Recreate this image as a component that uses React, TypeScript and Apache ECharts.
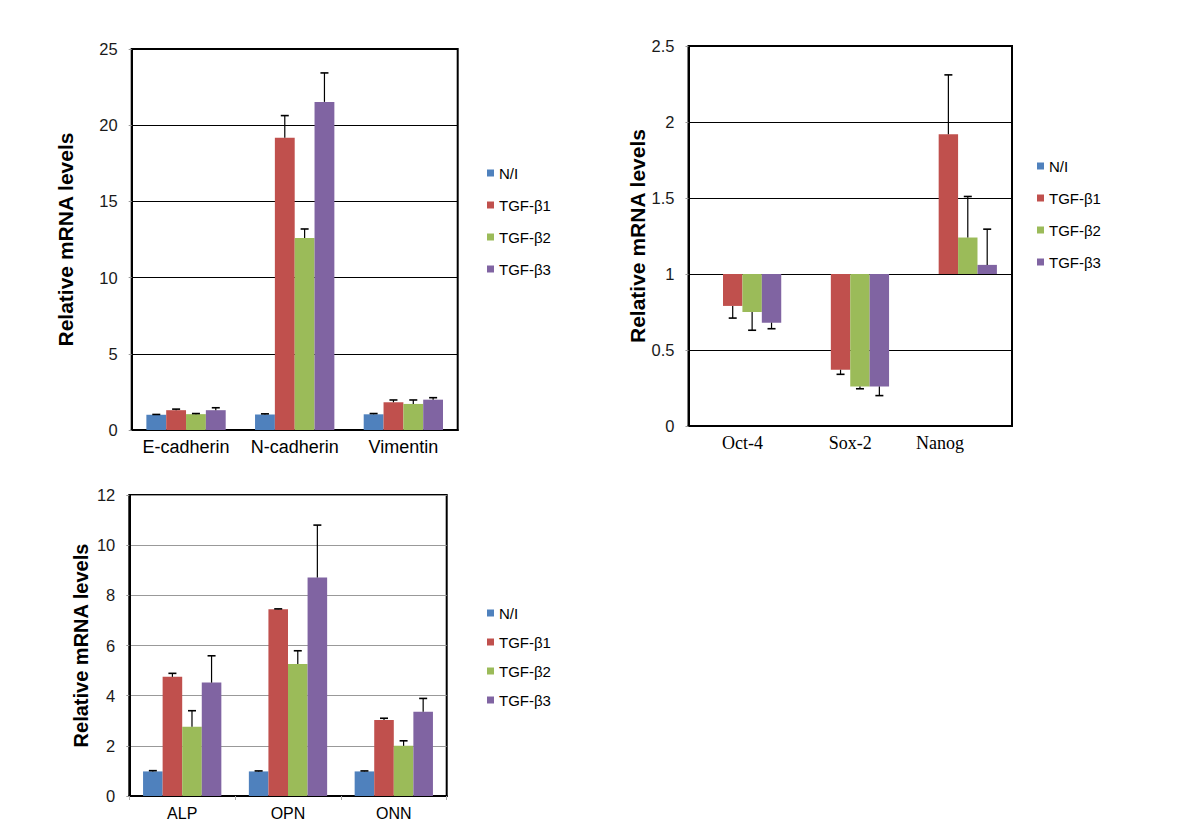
import React, { useEffect, useRef } from "react";
import * as echarts from "echarts";

// ---------- data ----------
const SERIES = ["N/I", "TGF-β1", "TGF-β2", "TGF-β3"];
const COLORS = ["#4F81BD", "#C0504D", "#9BBB59", "#8064A2"];

// Panel A: EMT markers
const EMT_GENES = ["E-cadherin", "N-cadherin", "Vimentin"];
const EMT_NI = [1.0, 1.02, 1.03];
const EMT_B1 = [1.3, 19.17, 1.82];
const EMT_B2 = [1.04, 12.6, 1.71];
const EMT_B3 = [1.3, 21.53, 1.99];
const EMT_NI_ERR = [0.02, 0.04, 0.05];
const EMT_B1_ERR = [0.07, 1.46, 0.15];
const EMT_B2_ERR = [0.04, 0.59, 0.26];
const EMT_B3_ERR = [0.16, 1.9, 0.13];
const EMT_AXIS = [0, 25, 5]; // min, max, interval

// Panel B: stemness markers (bars drawn from baseline 1)
const STEM_GENES = ["Oct-4", "Sox-2", "Nanog"];
const STEM_NI = [1, 1, 1];
const STEM_B1 = [0.79, 0.37, 1.92];
const STEM_B2 = [0.75, 0.26, 1.24];
const STEM_B3 = [0.68, 0.26, 1.06];
const STEM_NI_ERR = [0, 0, 0];
const STEM_B1_ERR = [0.08, 0.03, 0.39];
const STEM_B2_ERR = [0.12, 0.015, 0.27];
const STEM_B3_ERR = [0.04, 0.06, 0.235];
const STEM_BASELINE = 1;
const STEM_AXIS = [0, 2.5, 0.5];

// Panel C: osteogenic markers
const OST_GENES = ["ALP", "OPN", "ONN"];
const OST_NI = [0.98, 0.98, 0.98];
const OST_B1 = [4.75, 7.45, 3.03];
const OST_B2 = [2.76, 5.26, 2.0];
const OST_B3 = [4.52, 8.71, 3.36];
const OST_NI_ERR = [0.03, 0.02, 0.02];
const OST_B1_ERR = [0.14, 0.01, 0.07];
const OST_B2_ERR = [0.64, 0.53, 0.2];
const OST_B3_ERR = [1.07, 2.09, 0.53];
const OST_AXIS = [0, 12, 2];

const Y_TITLE = "Relative mRNA levels";

// ---------- helpers ----------
const SANS = "'Liberation Sans', Arial, Helvetica, sans-serif";
const SERIF = "'Liberation Serif', 'Times New Roman', serif";

function errSeries(
  grid: number,
  group: number,
  values: number[],
  errs: number[],
  gapPct: number,
  baseline: number
) {
  return {
    type: "custom",
    name: SERIES[group],
    xAxisIndex: grid,
    yAxisIndex: grid,
    z: 5,
    silent: true,
    encode: { x: 0, y: 1 },
    data: values.map((v, i) => [i, v, errs[i]]),
    renderItem: (_params: any, api: any) => {
      const i = api.value(0);
      const v = api.value(1);
      const e = api.value(2);
      if (!e) return null;
      const dir = v < baseline ? -1 : 1;
      const p0 = api.coord([i, v]);
      const p1 = api.coord([i, v + dir * e]);
      const band = api.size([1, 0])[0];
      const barW = (band * (1 - gapPct)) / 4;
      const x = p0[0] + (group - 1.5) * barW;
      return {
        type: "group",
        children: [
          {
            type: "line",
            shape: { x1: x, y1: p0[1], x2: x, y2: p1[1] },
            style: { stroke: "#000", lineWidth: 1.2 },
          },
          {
            type: "line",
            shape: { x1: x - 4, y1: p1[1], x2: x + 4, y2: p1[1] },
            style: { stroke: "#000", lineWidth: 1.6 },
          },
        ],
      };
    },
  };
}

function plainBars(grid: number, groups: number[][], gapPct: number) {
  return groups.map((vals, g) => ({
    type: "bar",
    name: SERIES[g],
    xAxisIndex: grid,
    yAxisIndex: grid,
    data: vals,
    barGap: "0%",
    barCategoryGap: `${gapPct * 100}%`,
    itemStyle: { color: COLORS[g] },
    silent: true,
  }));
}

function baselineBars(grid: number, groups: number[][], gapPct: number, base: number) {
  const out: any[] = [];
  groups.forEach((vals, g) => {
    out.push({
      type: "bar",
      name: "_base" + g,
      stack: "stem" + g,
      xAxisIndex: grid,
      yAxisIndex: grid,
      data: vals.map((v) => Math.min(v, base)),
      barGap: "0%",
      barCategoryGap: `${gapPct * 100}%`,
      itemStyle: { color: "rgba(0,0,0,0)" },
      silent: true,
    });
    out.push({
      type: "bar",
      name: SERIES[g],
      stack: "stem" + g,
      xAxisIndex: grid,
      yAxisIndex: grid,
      data: vals.map((v) => Math.abs(v - base)),
      barGap: "0%",
      barCategoryGap: `${gapPct * 100}%`,
      itemStyle: { color: COLORS[g] },
      silent: true,
    });
  });
  return out;
}

function yAxis(grid: number, ax: number[], split: string, nameGap: number, nameSize: number) {
  return {
    type: "value",
    gridIndex: grid,
    min: ax[0],
    max: ax[1],
    interval: ax[2],
    name: Y_TITLE,
    nameLocation: "middle",
    nameGap,
    nameTextStyle: { fontFamily: SANS, fontWeight: "bold", fontSize: nameSize, color: "#000" },
    axisLine: { show: true, lineStyle: { color: "#000", width: 2 } },
    axisTick: { show: true, length: 3, lineStyle: { color: "#999" } },
    axisLabel: { fontFamily: SANS, fontSize: 16.5, color: "#1a1a1a", margin: 14 },
    splitLine: { show: true, lineStyle: { color: split, width: 1 } },
  };
}

function legend(left: number, top: number, gap: number) {
  return {
    data: SERIES,
    orient: "vertical",
    left,
    top,
    padding: 0,
    itemGap: gap,
    itemWidth: 7,
    itemHeight: 7,
    icon: "rect",
    selectedMode: false,
    textStyle: { fontFamily: SANS, fontSize: 15, color: "#000", lineHeight: 16 },
  };
}

export default function App() {
  const ref = useRef<HTMLDivElement>(null);
  useEffect(() => {
    if (!ref.current) return;
    const chart = echarts.init(ref.current, null, { renderer: "svg" });
    const gapA = 0.27;
    const gapB = 0.28;
    const gapC = 0.26;
    const option: any = {
      animation: false,
      backgroundColor: "#fff",
      grid: [
        { left: 131.7, top: 49, width: 326, height: 381, show: true, borderColor: "#000", borderWidth: 2 },
        { left: 688.5, top: 46, width: 323.5, height: 380, show: true, borderColor: "#000", borderWidth: 2 },
        { left: 129.3, top: 495, width: 317.4, height: 301, show: true, borderColor: "#000", borderWidth: 2 },
      ],
      xAxis: [
        {
          type: "category",
          gridIndex: 0,
          data: EMT_GENES,
          axisLine: { lineStyle: { color: "#000", width: 2 } },
          axisTick: { show: false },
          axisLabel: { interval: 0, hideOverlap: false, fontFamily: SANS, fontSize: 18, color: "#000", margin: 8 },
        },
        {
          type: "category",
          gridIndex: 1,
          data: STEM_GENES,
          axisLine: { onZero: false, lineStyle: { color: "#000", width: 2 } },
          axisTick: { show: false },
          axisLabel: {
            interval: 0,
            fontFamily: SERIF,
            fontSize: 18,
            color: "#000",
            margin: 8,
            formatter: (v: string) => (v === "Nanog" ? "{n|" + v + "}" : v),
            rich: { n: { fontFamily: SERIF, fontSize: 18, color: "#000", padding: [0, 36, 0, 0] } },
          },
        },
        {
          type: "category",
          gridIndex: 2,
          data: OST_GENES,
          axisLine: { lineStyle: { color: "#000", width: 2 } },
          axisTick: { show: true, length: 4, lineStyle: { color: "#aaa" } },
          axisLabel: { interval: 0, fontFamily: SANS, fontSize: 16, color: "#000", margin: 9 },
        },
      ],
      yAxis: [
        yAxis(0, EMT_AXIS, "#000", 56, 21),
        yAxis(1, STEM_AXIS, "#000", 41, 21),
        yAxis(2, OST_AXIS, "#999", 38, 20),
      ],
      legend: [legend(487, 165, 16), legend(1037, 158, 16), legend(487, 605, 13)],
      series: [
        ...plainBars(0, [EMT_NI, EMT_B1, EMT_B2, EMT_B3], gapA),
        ...baselineBars(1, [STEM_NI, STEM_B1, STEM_B2, STEM_B3], gapB, STEM_BASELINE),
        ...plainBars(2, [OST_NI, OST_B1, OST_B2, OST_B3], gapC),
        errSeries(0, 0, EMT_NI, EMT_NI_ERR, gapA, 0),
        errSeries(0, 1, EMT_B1, EMT_B1_ERR, gapA, 0),
        errSeries(0, 2, EMT_B2, EMT_B2_ERR, gapA, 0),
        errSeries(0, 3, EMT_B3, EMT_B3_ERR, gapA, 0),
        errSeries(1, 0, STEM_NI, STEM_NI_ERR, gapB, STEM_BASELINE),
        errSeries(1, 1, STEM_B1, STEM_B1_ERR, gapB, STEM_BASELINE),
        errSeries(1, 2, STEM_B2, STEM_B2_ERR, gapB, STEM_BASELINE),
        errSeries(1, 3, STEM_B3, STEM_B3_ERR, gapB, STEM_BASELINE),
        errSeries(2, 0, OST_NI, OST_NI_ERR, gapC, 0),
        errSeries(2, 1, OST_B1, OST_B1_ERR, gapC, 0),
        errSeries(2, 2, OST_B2, OST_B2_ERR, gapC, 0),
        errSeries(2, 3, OST_B3, OST_B3_ERR, gapC, 0),
      ],
    };
    chart.setOption(option);
    return () => chart.dispose();
  }, []);
  return (
    <div
      ref={ref}
      style={{ position: "absolute", left: 0, top: 0, width: 1196, height: 834, background: "#fff" }}
    />
  );
}
